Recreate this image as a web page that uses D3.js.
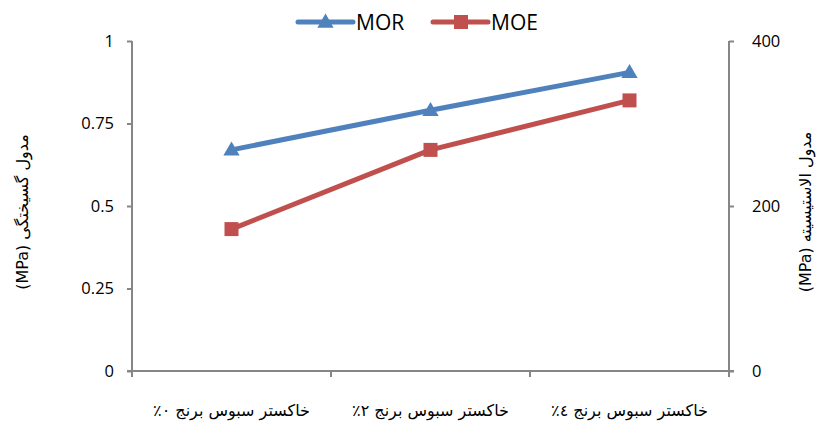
<!DOCTYPE html>
<html><head><meta charset="utf-8">
<script src="https://cdn.jsdelivr.net/npm/d3@7"></script>
<style>body{margin:0;background:#fff}svg{display:block}</style>
</head><body>
<svg id="c" width="818" height="423"></svg>
<script>
const categories = ["خاکستر سبوس برنج ٠٪", "خاکستر سبوس برنج ٢٪", "خاکستر سبوس برنج ٤٪"];
const morValues = [0.67, 0.79, 0.905];
const moeValues = [172, 268, 328];
const leftTicks = [0, 0.25, 0.5, 0.75, 1];
const rightTicks = [0, 200, 400];
const leftTitle = "مدول گسیختگی (MPa)";
const rightTitle = "مدول الاستیسیته (MPa)";
const seriesNames = ["MOR", "MOE"];

const svg = d3.select("#c");
const m = {l:132, r:729, t:41, b:371};
const x = d3.scaleBand().domain(categories).range([m.l, m.r]);
const yL = d3.scaleLinear().domain([0,1]).range([m.b, m.t]);
const yR = d3.scaleLinear().domain([0,400]).range([m.b, m.t]);
const axisColor = "#868686";
const tickFont = "'Open Sans', 'Liberation Sans', sans-serif";

const gL = svg.append("g").attr("transform",`translate(${m.l},0)`)
  .call(d3.axisLeft(yL).tickValues(leftTicks).tickSize(5).tickPadding(13).tickFormat(d=>d3.format("")(d)));
const gR = svg.append("g").attr("transform",`translate(${m.r},0)`)
  .call(d3.axisRight(yR).tickValues(rightTicks).tickSize(5).tickPadding(18));
const gX = svg.append("g").attr("transform",`translate(0,${m.b})`)
  .call(d3.axisBottom(x).tickSize(0).tickFormat(""));
[gL,gR,gX].forEach(g=>{
  g.select(".domain").attr("stroke",axisColor).attr("stroke-width",2);
  g.selectAll(".tick line").attr("stroke",axisColor).attr("stroke-width",2);
  g.selectAll("text").attr("fill","#000").style("font-family",tickFont).style("font-size","16.5px");
});
gL.select(".domain").attr("d",`M0,${m.t}V${m.b}`);
gR.select(".domain").attr("d",`M0,${m.t}V${m.b}`);
gX.select(".domain").attr("d",`M${m.l-5},0H${m.r+5}`);
const bounds = categories.map(c=>x(c)).concat([x(categories[categories.length-1])+x.bandwidth()]);
gX.selectAll(".btick").data(bounds).enter().append("line")
  .attr("x1",d=>d).attr("x2",d=>d).attr("y1",0).attr("y2",6)
  .attr("stroke",axisColor).attr("stroke-width",2);
gX.selectAll(".clab").data(categories).enter().append("text")
  .attr("x",d=>x(d)+x.bandwidth()/2).attr("y",45)
  .attr("text-anchor","middle").attr("direction","rtl")
  .style("font-family","'DejaVu Sans',serif").style("font-size","16px")
  .attr("fill","#000").text(d=>d);

svg.append("text").attr("transform",`translate(28,212) rotate(-90)`)
  .attr("text-anchor","middle").attr("direction","rtl")
  .style("font-family","'DejaVu Sans',sans-serif").style("font-size","16px").text(leftTitle);
svg.append("text").attr("transform",`translate(811,212) rotate(-90)`)
  .attr("text-anchor","middle").attr("direction","rtl")
  .style("font-family","'DejaVu Sans',sans-serif").style("font-size","16px").text(rightTitle);

const cx = d => x(d)+x.bandwidth()/2;
const blue = "#4F81BD", red = "#C0504D";
const lineMOR = d3.line().x((d,i)=>cx(categories[i])).y(d=>yL(d));
const lineMOE = d3.line().x((d,i)=>cx(categories[i])).y(d=>yR(d));
svg.append("path").attr("d",lineMOR(morValues)).attr("fill","none").attr("stroke",blue).attr("stroke-width",5).attr("stroke-linejoin","round").attr("stroke-linecap","round");
svg.append("path").attr("d",lineMOE(moeValues)).attr("fill","none").attr("stroke",red).attr("stroke-width",5).attr("stroke-linejoin","round").attr("stroke-linecap","round");
const tri = d3.symbol().type(d3.symbolTriangle).size(115);
svg.selectAll(".tri").data(morValues).enter().append("path")
  .attr("d",tri).attr("transform",(d,i)=>`translate(${cx(categories[i])},${yL(d)+1})`).attr("fill",blue);
svg.selectAll(".sq").data(moeValues).enter().append("rect")
  .attr("x",(d,i)=>cx(categories[i])-7).attr("y",d=>yR(d)-7).attr("width",14).attr("height",14).attr("fill",red);

const lg = svg.append("g");
const legItems = [{name:seriesNames[0],color:blue,x0:298,type:"tri"},{name:seriesNames[1],color:red,x0:433,type:"sq"}];
legItems.forEach(it=>{
  lg.append("line").attr("x1",it.x0).attr("x2",it.x0+55).attr("y1",22).attr("y2",22)
    .attr("stroke",it.color).attr("stroke-width",5).attr("stroke-linecap","round");
  if(it.type==="tri") lg.append("path").attr("d",tri).attr("transform",`translate(${it.x0+27.5},${23})`).attr("fill",it.color);
  else lg.append("rect").attr("x",it.x0+21).attr("y",15).attr("width",14).attr("height",14).attr("fill",it.color);
  lg.append("text").attr("x",it.x0+58).attr("y",30).style("font-family",tickFont).style("font-size","21px").attr("fill","#000").text(it.name);
});
</script>
</body></html>
